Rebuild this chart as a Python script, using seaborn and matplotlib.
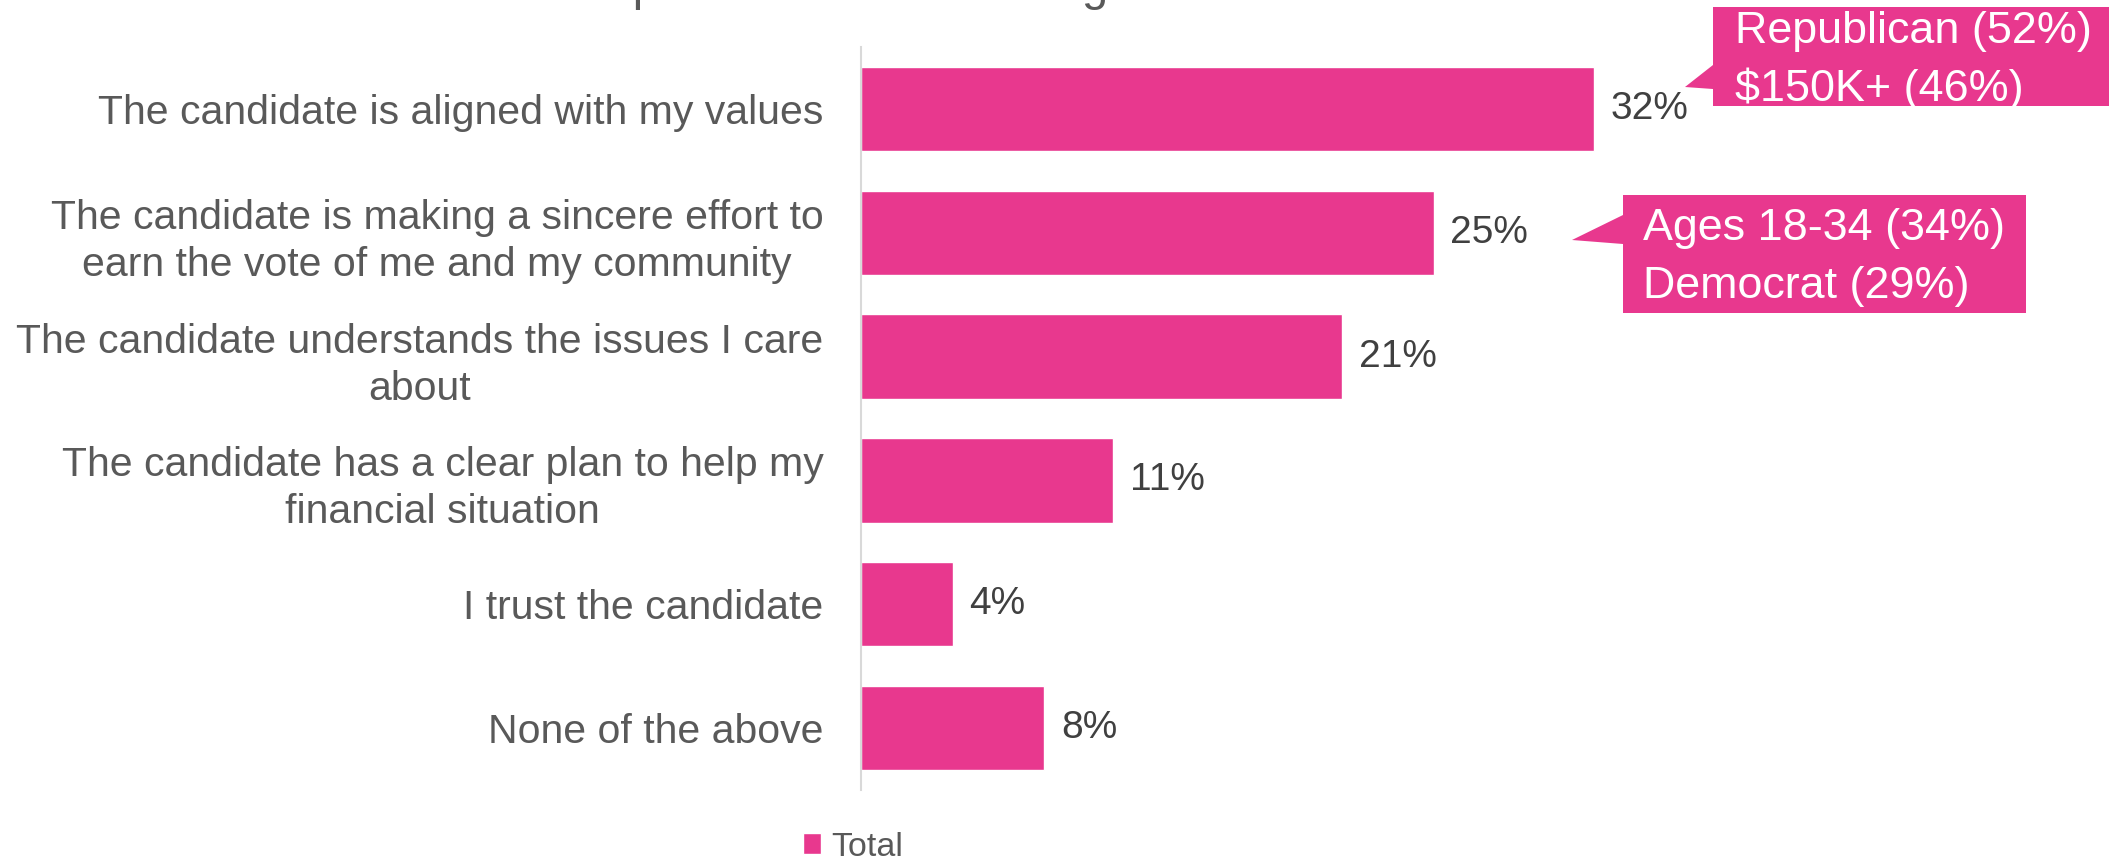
import matplotlib
matplotlib.use("Agg")
import matplotlib.pyplot as plt
from matplotlib.patches import Polygon
import seaborn as sns
import pandas as pd

# ---- data ----
reasons = [
    "The candidate is aligned with my values",
    "The candidate is making a sincere effort to\nearn the vote of me and my community",
    "The candidate understands the issues I care\nabout",
    "The candidate has a clear plan to help my\nfinancial situation",
    "I trust the candidate",
    "None of the above",
]
totals = [32, 25, 21, 11, 4, 8]
series_name = "Total"
title_text = "Which is most important when choosing a candidate?"
callout_top = ["Republican (52%)", "$150K+ (46%)"]
callout_second = ["Ages 18-34 (34%)", "Democrat (29%)"]

# ---- style ----
PINK = "#E8388E"
GRAY = "#595959"
DARK = "#404040"
W, H = 2109, 859

sns.set_style("white")
plt.rcParams["font.family"] = ["Liberation Sans", "DejaVu Sans"]

df = pd.DataFrame({"Reason": reasons, "Pct": totals, "Series": series_name})

fig = plt.figure(figsize=(W / 100, H / 100), dpi=100)
ax = fig.add_axes([861 / W, 1 - 790 / H, 1 - 861 / W, (790 - 47) / H])

sns.barplot(data=df, y="Reason", x="Pct", hue="Series", palette=[PINK],
            width=0.68, dodge=False, orient="h", ax=ax, saturation=1)

ax.set_xlim(0, (W - 861) / 22.9)
ax.set_xlabel("")
ax.set_ylabel("")
ax.set_xticks([])
for s in ["top", "right", "bottom"]:
    ax.spines[s].set_visible(False)
ax.spines["left"].set_color("#D9D9D9")
ax.spines["left"].set_linewidth(1.5)
ax.tick_params(axis="y", length=0, pad=27, labelsize=29.5, labelcolor=GRAY)
for lab in ax.get_yticklabels():
    lab.set_multialignment("center")
    lab.set_linespacing(1.3)

ax.bar_label(ax.containers[0], labels=[f"{v}%" for v in totals],
             padding=12, fontsize=28, color=DARK)

# legend
handles, labels = ax.get_legend_handles_labels()
if ax.get_legend() is not None:
    ax.get_legend().remove()
fig.legend(handles, labels, loc="center", bbox_to_anchor=(853 / W, 1 - 847 / H),
           frameon=False, fontsize=24.5, handlelength=0.55, handleheight=0.55,
           handletextpad=0.3, labelcolor=GRAY)

# title (clipped at top like the reference)
fig.text(834 / W, 1.0, title_text, ha="center", va="baseline",
         fontsize=34, color=GRAY)


def fx(x, y):
    return (x / W, 1 - y / H)


# callouts
poly1 = [(1713, 7), (2130, 7), (2130, 106), (1713, 106), (1713, 89), (1685, 87), (1713, 65)]
poly2 = [(1623, 195), (2026, 195), (2026, 313), (1623, 313), (1623, 244), (1572, 240), (1623, 215)]
for poly in (poly1, poly2):
    fig.patches.append(Polygon([fx(x, y) for x, y in poly], closed=True,
                               transform=fig.transFigure, facecolor=PINK,
                               edgecolor="none", zorder=5))

for txt, (x, y) in zip(callout_top, [(1735, 43), (1735, 101)]):
    fig.text(*fx(x, y), txt, ha="left", va="baseline", fontsize=32.3,
             color="white", zorder=6)
for txt, (x, y) in zip(callout_second, [(1643, 240), (1643, 298)]):
    fig.text(*fx(x, y), txt, ha="left", va="baseline", fontsize=32.3,
             color="white", zorder=6)

fig.savefig("out.png", dpi=100)
